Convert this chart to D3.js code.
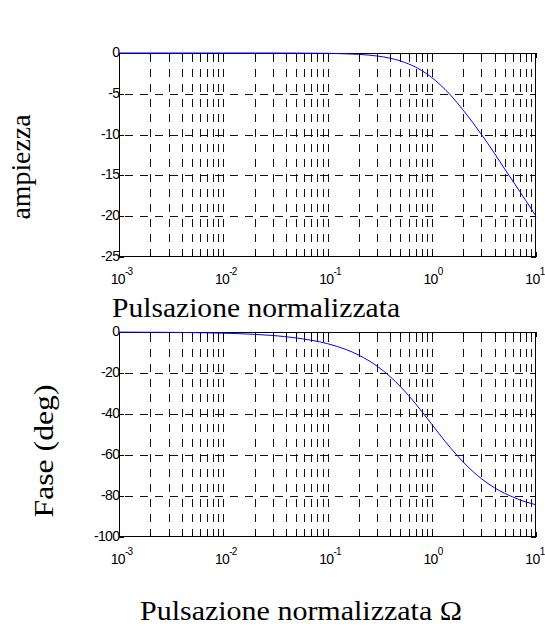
<!DOCTYPE html>
<html>
<head>
<meta charset="utf-8">
<script src="https://cdn.jsdelivr.net/npm/d3@7"></script>
<style>
  html, body { margin: 0; padding: 0; background: #fff; }
  svg { display: block; }
</style>
</head>
<body>
<svg id="chart" width="545" height="628"></svg>
<script>
// ---- data ----
const freq     = [0.001, 0.003, 0.01, 0.02, 0.03, 0.05, 0.1, 0.15, 0.2, 0.3, 0.4, 0.5, 0.6, 0.7, 0.8, 1, 1.2, 1.5, 2, 2.5, 3, 4, 5, 6, 7, 8, 10];
const magDb    = [0, 0, 0, 0, 0, -0.01, -0.04, -0.1, -0.17, -0.37, -0.64, -0.97, -1.34, -1.73, -2.15, -3.0, -3.87, -5.1, -7.0, -8.6, -10.0, -12.3, -14.2, -15.7, -17.0, -18.1, -20.0];
const phaseDeg = [-0.06, -0.17, -0.57, -1.15, -1.7, -2.9, -5.7, -8.5, -11.3, -16.7, -21.8, -26.6, -31.0, -35.0, -38.7, -45.0, -50.2, -56.3, -63.4, -68.2, -71.6, -76.0, -78.7, -80.5, -81.9, -82.9, -84.3];
const xTickExp   = [-3, -2, -1, 0, 1];
const magTicks   = [0, -5, -10, -15, -20, -25];
const phaseTicks = [0, -20, -40, -60, -80, -100];
const magLabel   = "ampiezza";
const phaseLabel = "Fase (deg)";
const xLabelTop  = "Pulsazione normalizzata";
const xLabelBot  = "Pulsazione normalizzata \u03A9";

// ---- layout ----
const svg = d3.select("#chart");
const W = 545;
const L = 119, R = 536;
const panels = [
  { top: 53,  bottom: 257, domain: [-25, 0],  ticks: magTicks,   values: magDb },
  { top: 332, bottom: 537, domain: [-100, 0], ticks: phaseTicks, values: phaseDeg }
];
const x = d3.scaleLog().domain([1e-3, 10]).range([L, R]);

// minor positions for grid / ticks
const gridX = [];
for (let e = -3; e < 1; e++) for (let m = 1; m <= 9; m++) gridX.push(m * Math.pow(10, e));
gridX.push(10);

const tickFont = "'Liberation Sans', Arial, sans-serif";
const serif = "'Liberation Serif', 'Times New Roman', serif";

// top x label drawn first so the lower axes sit over it
svg.append("text")
  .attr("x", 112).attr("y", 317)
  .attr("font-family", serif).attr("font-size", 28)
  .attr("textLength", 288).attr("lengthAdjust", "spacingAndGlyphs")
  .text(xLabelTop);

panels.forEach(p => {
  const y = d3.scaleLinear().domain(p.domain).range([p.bottom, p.top]);
  const g = svg.append("g");
  const px = v => Math.round(x(v)) + 0.5;
  const py = v => Math.round(y(v)) + 0.5;

  g.append("rect").attr("x", L).attr("y", p.top).attr("width", R - L).attr("height", p.bottom - p.top).attr("fill", "#fff");

  // vertical grid
  g.selectAll(".vg").data(gridX.filter(v => v > 1e-3 && v < 10)).join("line")
    .attr("x1", px).attr("x2", px)
    .attr("y1", p.bottom).attr("y2", p.top)
    .attr("stroke", "#111").attr("stroke-width", 1)
    .attr("stroke-dasharray", "8,7").attr("stroke-dashoffset", 0);

  // horizontal grid
  g.selectAll(".hg").data(p.ticks.filter(t => t !== p.domain[0] && t !== p.domain[1])).join("line")
    .attr("x1", L).attr("x2", R)
    .attr("y1", py).attr("y2", py)
    .attr("stroke", "#111").attr("stroke-width", 1)
    .attr("stroke-dasharray", "8,7").attr("stroke-dashoffset", 9);

  // x ticks (top and bottom, inward)
  g.selectAll(".xtb").data(gridX).join("line")
    .attr("x1", px).attr("x2", px)
    .attr("y1", p.bottom).attr("y2", p.bottom - 5)
    .attr("stroke", "#000");
  g.selectAll(".xtt").data(gridX).join("line")
    .attr("x1", px).attr("x2", px)
    .attr("y1", p.top).attr("y2", p.top + 5)
    .attr("stroke", "#000");

  // y ticks (left and right, inward)
  g.selectAll(".ytl").data(p.ticks).join("line")
    .attr("x1", L).attr("x2", L + 5)
    .attr("y1", py).attr("y2", py)
    .attr("stroke", "#000");
  g.selectAll(".ytr").data(p.ticks).join("line")
    .attr("x1", R).attr("x2", R - 5)
    .attr("y1", py).attr("y2", py)
    .attr("stroke", "#000");

  // box
  g.append("rect").attr("x", L + 0.5).attr("y", p.top + 0.5)
    .attr("width", R - L - 1).attr("height", p.bottom - p.top - 1)
    .attr("fill", "none").attr("stroke", "#000").attr("stroke-width", 1);

  // y tick labels
  g.selectAll(".yl").data(p.ticks).join("text")
    .attr("x", L + 0.5).attr("y", d => y(d) + 4)
    .attr("text-anchor", "end")
    .attr("font-family", tickFont).attr("font-size", 14)
    .attr("letter-spacing", "-0.6")
    .text(d => d);

  // x tick labels: "10" with superscript exponent
  xTickExp.forEach(e => {
    const tx = x(Math.pow(10, e));
    const lab = g.append("g");
    lab.append("text").attr("x", 6).attr("y", p.bottom + 27)
      .attr("text-anchor", "end")
      .attr("font-family", tickFont).attr("font-size", 14).attr("letter-spacing", "-0.6")
      .text("10");
    const sup = lab.append("text").attr("x", 6).attr("y", p.bottom + 18)
      .attr("text-anchor", "start")
      .attr("font-family", tickFont).attr("font-size", 10).attr("letter-spacing", "-0.8")
      .text(e);
    const supW = sup.node().getComputedTextLength();
    const shift = Math.min(0, W - 0.5 - (tx + 6 + supW));
    lab.attr("transform", `translate(${tx + shift},0)`);
  });

  // curve
  const line = d3.line()
    .x((d, i) => x(freq[i]))
    .y(d => y(d))
    .curve(d3.curveMonotoneX);
  g.append("path").datum(p.values)
    .attr("d", line)
    .attr("fill", "none").attr("stroke", "#0000ff").attr("stroke-width", 1);
});

// axis labels
svg.append("text")
  .attr("transform", "translate(30,167) rotate(-90)")
  .attr("text-anchor", "middle")
  .attr("font-family", serif).attr("font-size", 28)
  .attr("textLength", 105).attr("lengthAdjust", "spacingAndGlyphs")
  .text(magLabel);

svg.append("text")
  .attr("transform", "translate(53,451) rotate(-90)")
  .attr("text-anchor", "middle")
  .attr("font-family", serif).attr("font-size", 28)
  .attr("textLength", 133).attr("lengthAdjust", "spacingAndGlyphs")
  .text(phaseLabel);

svg.append("text")
  .attr("x", 140).attr("y", 620)
  .attr("font-family", serif).attr("font-size", 28)
  .attr("textLength", 322).attr("lengthAdjust", "spacingAndGlyphs")
  .text(xLabelBot);
</script>
</body>
</html>
